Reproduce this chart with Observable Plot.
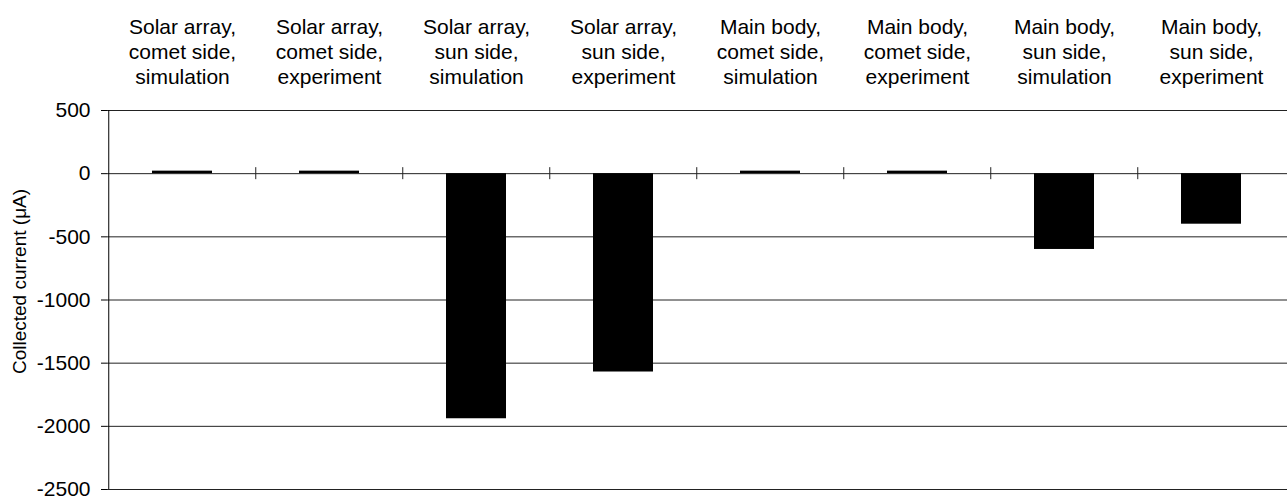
<!DOCTYPE html>
<html><head><meta charset="utf-8">
<script src="https://cdn.jsdelivr.net/npm/d3@7"></script>
<script src="https://cdn.jsdelivr.net/npm/@observablehq/plot@0.6"></script>
<style>html,body{margin:0;padding:0;background:#fff}</style>
</head><body><div id="chart"></div>
<script>
const categories = [
  "Solar array,\ncomet side,\nsimulation",
  "Solar array,\ncomet side,\nexperiment",
  "Solar array,\nsun side,\nsimulation",
  "Solar array,\nsun side,\nexperiment",
  "Main body,\ncomet side,\nsimulation",
  "Main body,\ncomet side,\nexperiment",
  "Main body,\nsun side,\nsimulation",
  "Main body,\nsun side,\nexperiment"
];
const currents = [20, 20, -1940, -1570, 20, 20, -600, -400];
const yTicks = [500, 0, -500, -1000, -1500, -2000, -2500];
const yLabel = "Collected current (\u03BCA)";

const data = categories.map((c, i) => ({category: c, current: currents[i]}));

const W = 1287, H = 496, mL = 107, mR = 0, mT = 110, mB = 7;
const step = (W - mL - mR) / categories.length;

const chart = Plot.plot({
  width: W, height: H,
  marginLeft: mL, marginRight: mR, marginTop: mT, marginBottom: mB,
  style: {fontFamily: "'Liberation Sans', Arial, Helvetica, sans-serif", fontSize: "21px", background: "#fff", color: "#000", overflow: "visible"},
  x: {domain: categories, paddingInner: 0.59, paddingOuter: 0.295},
  y: {domain: [-2500, 500]},
  marks: [
    Plot.gridY(yTicks, {stroke: "#222", strokeOpacity: 1, strokeWidth: 1}),
    Plot.barY(data, {x: "category", y: "current", fill: "#000"}),
    Plot.ruleX(categories.slice(1), {x: d => d, y1: 0, y2: 0, insetTop: -6, insetBottom: -6, dx: -step / 2, stroke: "#222"}),
    Plot.ruleX([categories[0]], {x: d => d, y1: -2500, y2: 500, dx: -step / 2, stroke: "#000"}),
    Plot.axisY({ticks: yTicks, tickSize: 6, tickPadding: 11, label: null, fontSize: 21, tickFormat: d => String(d).replace("\u2212", "-")}),
    Plot.axisX({anchor: "top", tickSize: 0, tickPadding: 27, label: null, fontSize: 21, lineHeight: 1.19}),
    Plot.text([yLabel], {frameAnchor: "left", textAnchor: "middle", lineAnchor: "middle", rotate: -90, dx: -88, dy: -18.5, fontSize: 19})
  ]
});
document.getElementById("chart").appendChild(chart);
</script>
</body></html>
